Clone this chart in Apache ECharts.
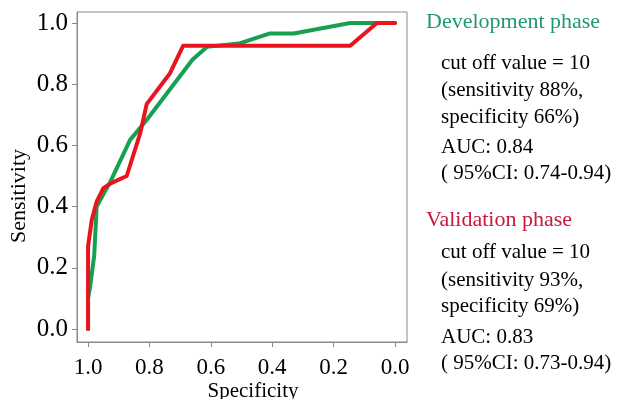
<!DOCTYPE html>
<html>
<head>
<meta charset="utf-8">
<script src="https://cdn.jsdelivr.net/npm/echarts@6/dist/echarts.min.js"></script>
<style>
  html, body { margin: 0; padding: 0; background: #ffffff; }
  #chart { width: 617px; height: 399px; }
</style>
</head>
<body>
<div id="chart"></div>
<script>
// ROC curves: sensitivity against specificity (specificity axis runs 1.0 -> 0.0)
const tickValues = [0, 0.2, 0.4, 0.6, 0.8, 1.0];

// Development phase
const devSpecificity = [1.0, 1.0, 0.993, 0.98, 0.972, 0.928, 0.863, 0.809, 0.66, 0.613, 0.504, 0.407, 0.33, 0.146, 0.0];
const devSensitivity = [0.0, 0.10, 0.14, 0.24, 0.40, 0.48, 0.618, 0.683, 0.88, 0.922, 0.934, 0.966, 0.966, 1.0, 1.0];

// Validation phase
const valSpecificity = [1.0, 1.0, 0.988, 0.972, 0.95, 0.928, 0.874, 0.83, 0.809, 0.733, 0.69, 0.146, 0.059, 0.0];
const valSensitivity = [0.0, 0.27, 0.356, 0.416, 0.46, 0.475, 0.50, 0.64, 0.735, 0.836, 0.926, 0.926, 1.0, 1.0];

// Side annotations
const devHeading = 'Development phase';
const devNotes = ['cut off value = 10', '(sensitivity 88%,', 'specificity 66%)', 'AUC: 0.84', '( 95%CI: 0.74-0.94)'];
const valHeading = 'Validation phase';
const valNotes = ['cut off value = 10', '(sensitivity 93%,', 'specificity 69%)', 'AUC: 0.83', '( 95%CI: 0.73-0.94)'];

const GREEN = '#17a052';
const RED = '#e8141e';
const SERIF = '"Liberation Serif", "Times New Roman", serif';

function pairs(xs, ys) { return xs.map((x, i) => [x, ys[i]]); }

function textEl(text, x, y, size, color, extra) {
  return Object.assign({
    type: 'text', x: x, y: y, z: 10,
    style: { text: text, font: size + 'px ' + SERIF, fill: color, align: 'left', verticalAlign: 'middle' }
  }, extra || {});
}

const devNoteY = [63, 90, 117, 147, 173];
const valNoteY = [252, 280, 306, 337, 363];

const graphics = [
  textEl(devHeading, 426, 22, 22, '#1f9a6c'),
  textEl(valHeading, 426, 220, 22, '#c8173a'),
  textEl('Sensitivity', 19, 196, 22, '#000', { rotation: Math.PI / 2, style: { text: 'Sensitivity', font: '22px ' + SERIF, fill: '#000', align: 'center', verticalAlign: 'middle' } }),
  textEl('Specificity', 253, 391, 21, '#000', { style: { text: 'Specificity', font: '21px ' + SERIF, fill: '#000', align: 'center', verticalAlign: 'middle' } })
];
devNotes.forEach((t, i) => graphics.push(textEl(t, 441, devNoteY[i], 21, '#000')));
valNotes.forEach((t, i) => graphics.push(textEl(t, 441, valNoteY[i], 21, '#000')));

const chart = echarts.init(document.getElementById('chart'), null, { renderer: 'canvas' });
chart.setOption({
  animation: false,
  backgroundColor: '#ffffff',
  grid: { left: 77, top: 12, right: 210, bottom: 57, show: true, borderColor: '#8a8a8a', borderWidth: 1, backgroundColor: 'transparent' },
  xAxis: {
    type: 'value', inverse: true, min: -0.039, max: 1.036,
    axisLine: { show: true, onZero: false, lineStyle: { color: '#8a8a8a', width: 1 } },
    axisTick: { show: true, length: 5, lineStyle: { color: '#8a8a8a' }, customValues: tickValues },
    axisLabel: { customValues: tickValues, margin: 14, color: '#000', fontFamily: SERIF, fontSize: 23, formatter: v => v.toFixed(1) },
    splitLine: { show: false }
  },
  yAxis: {
    type: 'value', min: -0.0425, max: 1.036,
    axisLine: { show: true, onZero: false, lineStyle: { color: '#8a8a8a', width: 1 } },
    axisTick: { show: true, length: 5, lineStyle: { color: '#8a8a8a' }, customValues: tickValues },
    axisLabel: { customValues: tickValues, margin: 9, color: '#000', fontFamily: SERIF, fontSize: 25, formatter: v => v.toFixed(1) },
    splitLine: { show: false }
  },
  series: [
    {
      name: devHeading, type: 'line', data: pairs(devSpecificity, devSensitivity),
      showSymbol: false, symbol: 'none', z: 2,
      lineStyle: { color: GREEN, width: 4, join: 'round', cap: 'round' }
    },
    {
      name: valHeading, type: 'line', data: pairs(valSpecificity, valSensitivity),
      showSymbol: false, symbol: 'none', z: 3,
      lineStyle: { color: RED, width: 4, join: 'round', cap: 'round' }
    }
  ],
  graphic: graphics
});
</script>
</body>
</html>
